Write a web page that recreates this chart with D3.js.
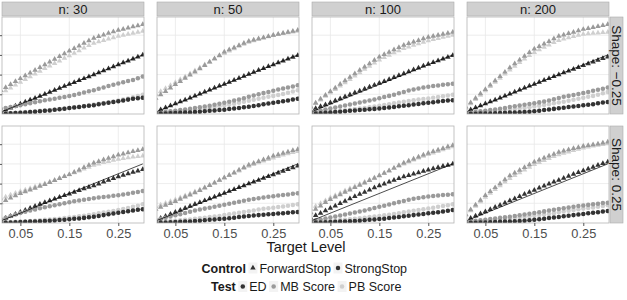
<!DOCTYPE html>
<html>
<head>
<meta charset="utf-8">
<script src="https://cdn.jsdelivr.net/npm/d3@7"></script>
<style>
  body { margin: 0; background: #fff; }
  text { font-family: "Liberation Sans", Arial, sans-serif; }
</style>
</head>
<body>
<div id="chart"></div>
<script>
// x values (target level) shared by every series
var levels = [0.01,0.02,0.03,0.04,0.05,0.06,0.07,0.08,0.09,0.10,0.11,0.12,0.13,0.14,0.15,
              0.16,0.17,0.18,0.19,0.20,0.21,0.22,0.23,0.24,0.25,0.26,0.27,0.28,0.29,0.30];

var sampleLabels = ["n: 30", "n: 50", "n: 100", "n: 200"];
var shapeLabels = ["Shape: \u22120.25", "Shape: 0.25"];
var xTicks = [0.05, 0.15, 0.25];
var yTicks = [0.1, 0.2, 0.3, 0.4];
var controls = ["ForwardStop", "StrongStop"];
var tests = ["ED", "MB Score", "PB Score"];

// one row per panel: shape -0.25 (n 30, 50, 100, 200), then shape 0.25 (n 30, 50, 100, 200)
var forwardED = [
  [.011,.021,.031,.041,.051,.061,.071,.081,.091,.101,.111,.121,.131,.141,.151,.160,.170,.180,.190,.200,.210,.220,.230,.240,.250,.260,.270,.280,.290,.300],
  [.012,.022,.032,.042,.052,.062,.072,.082,.092,.102,.112,.122,.132,.142,.152,.162,.172,.182,.192,.202,.212,.222,.231,.241,.251,.261,.270,.280,.289,.298],
  [.018,.028,.038,.048,.058,.068,.078,.088,.098,.108,.117,.127,.137,.147,.157,.166,.176,.186,.196,.205,.215,.225,.234,.244,.253,.262,.271,.280,.289,.298],
  [.012,.022,.032,.042,.052,.062,.072,.082,.092,.102,.112,.122,.132,.142,.152,.162,.172,.181,.191,.200,.210,.219,.228,.237,.246,.255,.264,.273,.282,.290],
  [.015,.025,.035,.045,.055,.065,.075,.085,.095,.104,.113,.122,.131,.140,.148,.157,.166,.174,.182,.190,.199,.208,.217,.226,.235,.243,.251,.258,.265,.272],
  [.015,.025,.035,.045,.055,.065,.075,.085,.095,.105,.114,.124,.133,.143,.152,.162,.171,.181,.190,.200,.209,.218,.227,.236,.245,.254,.263,.272,.281,.290],
  [.025,.038,.050,.063,.075,.087,.099,.111,.123,.135,.146,.157,.168,.179,.190,.199,.208,.217,.226,.235,.242,.249,.256,.263,.270,.276,.282,.288,.294,.300],
  [.013,.024,.036,.047,.058,.069,.080,.091,.102,.113,.124,.135,.146,.157,.167,.178,.188,.198,.208,.218,.228,.238,.248,.257,.266,.275,.284,.293,.302,.310]
];
var forwardMB = [
  [.120,.135,.150,.165,.180,.195,.209,.223,.237,.250,.264,.278,.292,.306,.320,.333,.346,.359,.372,.385,.394,.402,.410,.418,.425,.431,.437,.443,.449,.455],
  [.080,.098,.115,.133,.150,.166,.182,.198,.214,.230,.247,.264,.281,.298,.315,.326,.337,.348,.359,.370,.376,.382,.388,.394,.400,.405,.410,.415,.420,.425],
  [.036,.056,.076,.096,.115,.133,.151,.169,.187,.205,.222,.239,.256,.273,.290,.302,.314,.326,.338,.350,.358,.366,.374,.382,.390,.395,.400,.405,.410,.416],
  [.036,.058,.080,.103,.125,.147,.169,.191,.213,.235,.255,.275,.294,.312,.330,.343,.356,.369,.382,.395,.402,.409,.416,.423,.430,.435,.440,.445,.450,.455],
  [.103,.115,.127,.139,.150,.159,.168,.177,.187,.196,.206,.216,.226,.236,.246,.258,.270,.282,.294,.305,.313,.321,.329,.337,.345,.351,.357,.363,.369,.374],
  [.070,.080,.090,.100,.110,.121,.132,.143,.154,.165,.178,.191,.204,.217,.230,.243,.256,.269,.282,.295,.304,.313,.322,.331,.340,.347,.354,.361,.368,.374],
  [.053,.070,.087,.104,.120,.132,.144,.156,.168,.180,.192,.204,.216,.228,.240,.253,.266,.279,.292,.305,.315,.325,.335,.345,.355,.363,.371,.379,.387,.394],
  [.044,.068,.092,.116,.140,.160,.180,.200,.220,.240,.254,.268,.282,.296,.310,.320,.330,.340,.350,.360,.366,.372,.378,.384,.390,.394,.398,.402,.406,.411]
];
var forwardPB = [
  [.105,.119,.133,.147,.161,.175,.189,.203,.217,.231,.244,.257,.270,.283,.296,.309,.322,.335,.348,.360,.367,.374,.381,.388,.395,.400,.405,.410,.415,.420],
  [.100,.115,.130,.145,.160,.175,.190,.205,.220,.235,.250,.265,.280,.295,.308,.320,.332,.344,.355,.365,.372,.379,.386,.393,.399,.404,.409,.413,.417,.421],
  [.036,.054,.072,.090,.108,.125,.142,.159,.176,.193,.210,.227,.243,.259,.275,.287,.299,.311,.322,.333,.341,.349,.357,.365,.372,.378,.384,.390,.395,.400],
  [.030,.052,.074,.096,.118,.140,.161,.182,.203,.224,.243,.262,.280,.297,.313,.326,.339,.351,.363,.374,.381,.388,.394,.400,.405,.408,.410,.412,.414,.416],
  [.124,.133,.142,.151,.160,.168,.176,.184,.192,.200,.209,.218,.227,.236,.245,.255,.265,.275,.284,.293,.300,.307,.313,.319,.324,.328,.332,.335,.338,.340],
  [.083,.092,.101,.110,.119,.129,.139,.149,.159,.169,.181,.193,.205,.217,.229,.241,.253,.265,.277,.288,.297,.306,.315,.323,.331,.338,.345,.352,.358,.364],
  [.070,.085,.100,.114,.128,.140,.152,.164,.175,.186,.197,.208,.219,.230,.241,.253,.265,.277,.289,.300,.310,.320,.330,.339,.348,.356,.364,.372,.380,.387],
  [.040,.062,.085,.108,.131,.151,.170,.189,.208,.226,.241,.256,.270,.284,.297,.308,.318,.328,.338,.347,.354,.361,.368,.375,.381,.386,.391,.395,.399,.403]
];
var strongED = [
  [.002,.003,.004,.005,.006,.008,.010,.012,.014,.016,.018,.021,.024,.027,.030,.033,.036,.039,.042,.045,.049,.053,.057,.061,.065,.069,.073,.077,.080,.083],
  [.001,.002,.003,.004,.005,.006,.007,.008,.010,.012,.014,.016,.018,.020,.022,.025,.028,.031,.034,.037,.041,.045,.049,.053,.057,.061,.065,.069,.074,.078],
  [.001,.002,.004,.006,.008,.010,.012,.014,.016,.018,.020,.022,.024,.026,.028,.030,.033,.036,.039,.042,.045,.048,.051,.054,.057,.060,.063,.066,.068,.070],
  [.000,.001,.001,.002,.002,.003,.004,.005,.006,.007,.008,.009,.010,.012,.014,.017,.020,.023,.026,.029,.032,.035,.038,.041,.044,.047,.050,.054,.058,.061],
  [.001,.002,.003,.004,.005,.006,.007,.008,.009,.010,.011,.013,.015,.017,.019,.021,.023,.026,.029,.032,.036,.040,.044,.048,.052,.056,.060,.064,.067,.070],
  [.001,.002,.003,.004,.005,.006,.007,.008,.010,.012,.014,.016,.018,.020,.022,.024,.027,.030,.033,.036,.038,.040,.042,.044,.046,.048,.050,.052,.054,.056],
  [.001,.002,.003,.004,.005,.006,.007,.008,.009,.010,.012,.014,.016,.018,.020,.022,.025,.028,.031,.034,.037,.040,.043,.046,.049,.052,.055,.058,.062,.066],
  [.000,.001,.001,.002,.003,.004,.005,.006,.007,.008,.009,.010,.012,.014,.016,.019,.022,.025,.028,.031,.034,.037,.040,.043,.046,.049,.052,.055,.058,.061]
];
var strongMB = [
  [.025,.030,.035,.040,.045,.050,.055,.060,.065,.070,.074,.078,.082,.086,.091,.097,.103,.109,.115,.121,.128,.135,.142,.148,.155,.161,.167,.173,.181,.190],
  [.005,.008,.011,.014,.017,.020,.023,.026,.030,.034,.038,.042,.047,.052,.057,.062,.068,.074,.080,.087,.094,.100,.106,.112,.118,.124,.130,.135,.140,.146],
  [.008,.013,.018,.023,.028,.033,.038,.043,.048,.053,.058,.063,.068,.074,.080,.086,.092,.098,.105,.112,.119,.124,.129,.134,.138,.142,.145,.148,.151,.154],
  [.005,.008,.011,.014,.017,.020,.023,.027,.031,.035,.039,.043,.047,.051,.055,.059,.064,.069,.075,.081,.087,.092,.097,.102,.107,.112,.118,.123,.128,.134],
  [.019,.027,.035,.043,.051,.057,.063,.069,.075,.080,.085,.090,.095,.100,.105,.110,.114,.118,.122,.126,.129,.132,.135,.138,.141,.145,.149,.153,.157,.162],
  [.015,.021,.027,.033,.039,.045,.051,.057,.063,.068,.073,.078,.083,.088,.093,.098,.103,.108,.113,.118,.122,.126,.130,.133,.136,.139,.142,.145,.148,.151],
  [.010,.014,.018,.023,.028,.033,.038,.043,.048,.053,.058,.064,.070,.076,.082,.088,.094,.100,.106,.112,.118,.123,.127,.131,.134,.137,.140,.142,.144,.146],
  [.005,.008,.011,.014,.017,.020,.023,.026,.029,.032,.035,.039,.043,.047,.051,.055,.059,.063,.067,.071,.075,.079,.083,.086,.089,.092,.095,.098,.101,.103]
];
var strongPB = [
  [.003,.004,.005,.006,.008,.010,.012,.014,.016,.018,.020,.022,.025,.028,.031,.034,.037,.040,.044,.048,.052,.056,.060,.064,.069,.074,.079,.085,.091,.098],
  [.003,.005,.007,.009,.011,.013,.015,.018,.021,.024,.027,.031,.035,.039,.043,.047,.052,.057,.062,.067,.072,.077,.082,.087,.092,.097,.102,.108,.114,.120],
  [.004,.006,.008,.010,.012,.014,.016,.019,.022,.025,.028,.031,.034,.038,.042,.046,.050,.054,.058,.062,.066,.070,.073,.076,.079,.082,.086,.090,.094,.098],
  [.003,.005,.007,.009,.011,.013,.015,.017,.019,.022,.025,.028,.031,.034,.038,.042,.046,.050,.054,.058,.062,.067,.072,.077,.082,.087,.092,.098,.105,.112],
  [.003,.004,.005,.006,.007,.008,.010,.012,.014,.016,.018,.020,.022,.025,.028,.031,.034,.037,.041,.045,.049,.053,.057,.061,.066,.071,.076,.082,.088,.095],
  [.004,.006,.008,.010,.012,.014,.016,.018,.021,.024,.027,.030,.033,.036,.040,.044,.048,.052,.056,.060,.064,.068,.072,.075,.078,.081,.084,.087,.091,.095],
  [.003,.005,.007,.009,.011,.013,.015,.017,.019,.021,.024,.027,.030,.033,.036,.039,.042,.046,.050,.054,.058,.062,.066,.070,.074,.078,.082,.086,.090,.095],
  [.004,.006,.008,.010,.012,.014,.016,.018,.020,.022,.025,.028,.031,.034,.037,.040,.043,.046,.050,.054,.058,.062,.066,.070,.073,.076,.079,.082,.086,.090]
];

// layout
var svgWidth = 627, svgHeight = 300;
var panelLeft = 2, panelTop = 17;
var panelW = 142, panelH = 97;
var gapX = 13, gapY = 12;
var stripH = 14, stripW = 13;

var svg = d3.select("#chart").append("svg")
  .attr("width", svgWidth)
  .attr("height", svgHeight);

var xScale = d3.scaleLinear().domain([0.0125, 0.3025]).range([0, panelW]);
var yScale = d3.scaleLinear().domain([0, 0.4924]).range([panelH, 0]);
var colour = d3.scaleOrdinal().domain(tests).range(["#333333", "#9a9a9a", "#cfcfcf"]);
var shapeType = d3.scaleOrdinal().domain(controls).range([d3.symbolTriangle, d3.symbolCircle]);
var shapeSize = d3.scaleOrdinal().domain(controls).range([13, 16]);

// series list, drawing order: light first so darker points sit on top
var seriesList = [
  { control: "ForwardStop", test: "PB Score", values: forwardPB },
  { control: "ForwardStop", test: "MB Score", values: forwardMB },
  { control: "ForwardStop", test: "ED", values: forwardED },
  { control: "StrongStop", test: "PB Score", values: strongPB },
  { control: "StrongStop", test: "MB Score", values: strongMB },
  { control: "StrongStop", test: "ED", values: strongED }
];

var defs = svg.append("defs");
defs.append("clipPath").attr("id", "panelClip")
  .append("rect").attr("width", panelW).attr("height", panelH);

for (var row = 0; row < 2; row++) {
  for (var col = 0; col < 4; col++) {
    var idx = row * 4 + col;
    var px = panelLeft + col * (panelW + gapX);
    var py = panelTop + row * (panelH + gapY);
    var g = svg.append("g").attr("transform", `translate(${px}, ${py})`);

    g.append("rect")
      .attr("width", panelW).attr("height", panelH)
      .attr("fill", "#fff");

    // grid
    g.selectAll(".gx").data(xTicks).enter().append("line")
      .attr("x1", d => xScale(d)).attr("x2", d => xScale(d))
      .attr("y1", 0).attr("y2", panelH)
      .attr("stroke", "#e8e8e8").attr("stroke-width", 0.8);
    g.selectAll(".gy").data(yTicks).enter().append("line")
      .attr("y1", d => yScale(d)).attr("y2", d => yScale(d))
      .attr("x1", 0).attr("x2", panelW)
      .attr("stroke", "#e8e8e8").attr("stroke-width", 0.8);

    var marks = g.append("g").attr("clip-path", "url(#panelClip)");

    seriesList.forEach(function(s) {
      var vals = s.values[idx];
      marks.append("g").selectAll("path")
        .data(levels)
        .enter()
        .append("path")
        .attr("transform", (d, i) => `translate(${xScale(d)}, ${yScale(vals[i])})`)
        .attr("d", d3.symbol().type(shapeType(s.control)).size(shapeSize(s.control)))
        .attr("fill", colour(s.test));
    });

    // reference line y = x
    marks.append("line")
      .attr("x1", xScale(levels[0])).attr("y1", yScale(levels[0]))
      .attr("x2", xScale(levels[levels.length - 1])).attr("y2", yScale(levels[levels.length - 1]))
      .attr("stroke", "#000").attr("stroke-width", 0.7);

    g.append("rect")
      .attr("width", panelW).attr("height", panelH)
      .attr("fill", "none").attr("stroke", "#b5b5b5").attr("stroke-width", 0.8);

    // top strips
    if (row === 0) {
      var st = svg.append("g").attr("transform", `translate(${px}, ${panelTop - stripH - 1})`);
      st.append("rect").attr("width", panelW).attr("height", stripH)
        .attr("fill", "#d0d0d0").attr("stroke", "#ababab").attr("stroke-width", 0.6);
      st.append("text").attr("x", panelW / 2).attr("y", stripH / 2 + 4.5)
        .attr("text-anchor", "middle").attr("font-size", "13px").attr("fill", "#1a1a1a")
        .text(sampleLabels[col]);
    }

    // right strips
    if (col === 3) {
      var rs = svg.append("g").attr("transform", `translate(${px + panelW + 1}, ${py})`);
      rs.append("rect").attr("width", stripW).attr("height", panelH)
        .attr("fill", "#d0d0d0").attr("stroke", "#ababab").attr("stroke-width", 0.6);
      rs.append("text")
        .attr("transform", `translate(${stripW / 2 - 4.7}, ${panelH / 2}) rotate(90)`)
        .attr("text-anchor", "middle").attr("font-size", "13.5px").attr("fill", "#1a1a1a")
        .text(shapeLabels[row]);
    }

    // left ticks
    if (col === 0) {
      var leftAxis = d3.axisLeft(yScale).tickValues(yTicks).tickSize(2).tickSizeOuter(0).tickFormat("");
      var ya = g.append("g").call(leftAxis);
      ya.select(".domain").remove();
      ya.selectAll("line").attr("stroke", "#555");
    }

    // bottom axis
    if (row === 1) {
      var bottomAxis = d3.axisBottom(xScale).tickValues(xTicks).tickSize(3).tickSizeOuter(0)
        .tickFormat(d3.format(".2f"));
      var xa = g.append("g").attr("transform", `translate(0, ${panelH})`).call(bottomAxis);
      xa.select(".domain").remove();
      xa.selectAll("line").attr("stroke", "#555");
      xa.selectAll("text").attr("font-size", "12.8px").attr("fill", "#4d4d4d")
        .attr("font-family", "Liberation Sans, Arial, sans-serif");
    }
  }
}

// axis title
svg.append("text")
  .attr("x", 306).attr("y", 252)
  .attr("text-anchor", "middle").attr("font-size", "14.5px").attr("fill", "#1a1a1a")
  .text("Target Level");

// legend
function legendRow(startX, cy, title, items) {
  var lg = svg.append("g");
  var t = lg.append("text").attr("x", startX).attr("y", cy + 4.5)
    .attr("font-size", "12.5px").attr("font-weight", "bold").attr("fill", "#1a1a1a")
    .text(title);
  var x = startX + t.node().getComputedTextLength() + 7;
  items.forEach(function(it) {
    lg.append("rect").attr("x", x - 4.5).attr("y", cy - 5.5).attr("width", 9).attr("height", 11)
      .attr("fill", "#f3f3f3");
    lg.append("path")
      .attr("transform", `translate(${x}, ${cy})`)
      .attr("d", d3.symbol().type(shapeType(it.control)).size(shapeSize(it.control)))
      .attr("fill", colour(it.test));
    var lt = lg.append("text").attr("x", x + 6.5).attr("y", cy + 4.5)
      .attr("font-size", "12.5px").attr("fill", "#1a1a1a").text(it.label);
    x = x + 6.5 + lt.node().getComputedTextLength() + 7;
  });
}

legendRow(201.5, 268, "Control", [
  { label: controls[0], control: "ForwardStop", test: "ED" },
  { label: controls[1], control: "StrongStop", test: "ED" }
]);
legendRow(211, 286.5, "Test", [
  { label: tests[0], control: "StrongStop", test: "ED" },
  { label: tests[1], control: "StrongStop", test: "MB Score" },
  { label: tests[2], control: "StrongStop", test: "PB Score" }
]);
</script>
</body>
</html>
